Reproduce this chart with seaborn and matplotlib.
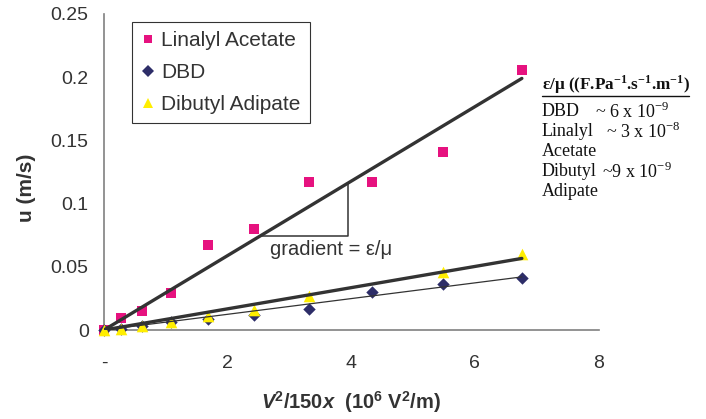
import numpy as np
import pandas as pd
import matplotlib
matplotlib.use("Agg")
import matplotlib.pyplot as plt
import seaborn as sns
from matplotlib.lines import Line2D

# ---- data ----
x_vals = [0, 0.27, 0.61, 1.08, 1.69, 2.43, 3.31, 4.33, 5.48, 6.76]
linalyl_y = [0, 0.0095, 0.015, 0.029, 0.067, 0.080, 0.117, 0.117, 0.141, 0.206]
dbd_y = [0, 0.001, 0.003, 0.006, 0.009, 0.012, 0.017, 0.030, 0.0366, 0.0414]
dibutyl_x = [0, 0.27, 0.61, 1.08, 1.69, 2.43, 3.31, 5.48, 6.76]
dibutyl_y = [0, 0.001, 0.003, 0.006, 0.011, 0.016, 0.027, 0.046, 0.060]
series_names = ["Linalyl Acetate", "DBD", "Dibutyl Adipate"]
x_ticks = [0, 2, 4, 6, 8]
x_tick_labels = ["-", "2", "4", "6", "8"]
y_ticks = [0, 0.05, 0.1, 0.15, 0.2, 0.25]
y_tick_labels = ["0", "0.05", "0.1", "0.15", "0.2", "0.25"]

colors = {"Linalyl Acetate": "#E6127F", "DBD": "#2D2D68", "Dibutyl Adipate": "#FFEE00"}
markers = {"Linalyl Acetate": "s", "DBD": "D", "Dibutyl Adipate": "^"}
msize = {"Linalyl Acetate": 48, "DBD": 40, "Dibutyl Adipate": 70}
fit_lw = {"Linalyl Acetate": 2.4, "DBD": 0.9, "Dibutyl Adipate": 2.4}

frames = [
    pd.DataFrame({"x": x_vals, "u": linalyl_y, "series": series_names[0]}),
    pd.DataFrame({"x": x_vals, "u": dbd_y, "series": series_names[1]}),
    pd.DataFrame({"x": dibutyl_x, "u": dibutyl_y, "series": series_names[2]}),
]
df = pd.concat(frames, ignore_index=True)

sns.set_theme(style="white")
plt.rcParams["font.family"] = ["Liberation Sans", "DejaVu Sans"]
plt.rcParams["mathtext.fontset"] = "custom"
plt.rcParams["mathtext.it"] = "Liberation Sans:italic:bold"
plt.rcParams["mathtext.rm"] = "Liberation Sans"

fig = plt.figure(figsize=(7.06, 4.19), dpi=100)
ax = fig.add_axes([104 / 706, 1 - 330 / 419, (598.5 - 104) / 706, (330 - 14) / 419])

for name in series_names:
    sub = df[df["series"] == name]
    sns.scatterplot(data=sub, x="x", y="u", marker=markers[name], color=colors[name],
                    s=msize[name], edgecolor=colors[name], linewidth=0, ax=ax,
                    legend=False, zorder=3, clip_on=False)

# least-squares trendlines through origin
slopes = {}
for name in series_names:
    sub = df[df["series"] == name]
    xs = sub["x"].to_numpy()
    ys = sub["u"].to_numpy()
    k = np.sum(xs * ys) / np.sum(xs * xs)
    slopes[name] = k
    xl = [0, xs.max()]
    sns.lineplot(x=xl, y=[k * v for v in xl], color="#333333", linewidth=fit_lw[name],
                 ax=ax, legend=False, zorder=4)

# gradient triangle annotation
k = slopes["Linalyl Acetate"]
y_base = 0.0742
x_right = 3.94
ax.plot([y_base / k, x_right, x_right], [y_base, y_base, k * x_right],
        color="#333333", linewidth=1.1, zorder=4)
ax.text(2.68, 0.0635, "gradient = ε/μ", fontsize=14.5, color="#333333",
        va="center", ha="left")

ax.set_xlim(0, 8)
ax.set_ylim(0, 0.25)
ax.set_xticks(x_ticks)
ax.set_xticklabels(x_tick_labels)
ax.set_yticks(y_ticks)
ax.set_yticklabels(y_tick_labels)
ax.tick_params(axis="both", which="major", direction="out", length=5, width=1,
               color="#808080", labelcolor="#333333", labelsize=14, pad=6)
ax.tick_params(axis="x", pad=13)
for s in ["top", "right"]:
    ax.spines[s].set_visible(False)
for s in ["left", "bottom"]:
    ax.spines[s].set_color("#808080")
    ax.spines[s].set_linewidth(1.2)

ax.set_xlabel("")
ax.set_ylabel("")
fig.text(26 / 706, 1 - 188 / 419, "u (m/s)", rotation=90, fontsize=15, fontweight="bold",
         color="#333333", ha="center", va="center")
fig.text(351 / 706, 1 - 402 / 419,
         r"$\it{V}$$^{\mathdefault{2}}$/150$\it{x}$  (10$^{\mathdefault{6}}$ V$^{\mathdefault{2}}$/m)",
         fontsize=14.5, fontweight="bold", color="#333333", ha="center", va="center")

handles = [Line2D([], [], linestyle="none", marker=markers[n], color=colors[n],
                  markersize=6 if n != "Dibutyl Adipate" else 7, markeredgewidth=0)
           for n in series_names]
leg = ax.legend(handles, series_names, loc="upper left", bbox_to_anchor=(0.057, 0.975),
                borderaxespad=0, fontsize=15, frameon=True, fancybox=False,
                edgecolor="#000000", labelspacing=0.62, handlelength=0.6,
                handletextpad=0.35, borderpad=0.45)
leg.get_frame().set_linewidth(0.8)
for t in leg.get_texts():
    t.set_color("#333333")

# right-hand text block
serif = ["Liberation Serif", "DejaVu Serif"]
fs = 13
def rt(xp, yp, s, size=fs, **kw):
    fig.text(xp / 706, 1 - yp / 419, s, family=serif, fontsize=size, color="#111111",
             ha="left", va="center", **kw)

rt(542, 85, r"ε/μ ((F.Pa$^{\mathdefault{-1}}$.s$^{\mathdefault{-1}}$.m$^{\mathdefault{-1}}$)",
   size=12.3, fontweight="bold")
fig.add_artist(Line2D([542 / 706, 689 / 706], [1 - 96 / 419, 1 - 96 / 419],
                      color="#111111", linewidth=1.0))
rt(542, 112, "DBD")
rt(595, 112, r"~ 6 x 10$^{\mathdefault{-9}}$")
rt(542, 132, "Linalyl")
rt(606, 132, r"~ 3 x 10$^{\mathdefault{-8}}$")
rt(542, 152, "Acetate")
rt(542, 172, "Dibutyl")
rt(602, 172, r"~9 x 10$^{\mathdefault{-9}}$")
rt(542, 192, "Adipate")

fig.savefig("out.png", dpi=100)
